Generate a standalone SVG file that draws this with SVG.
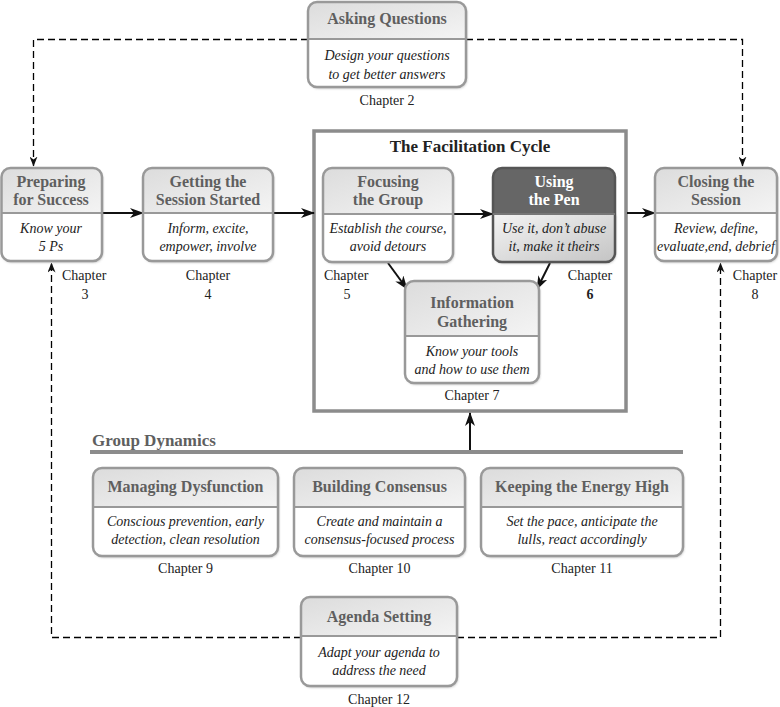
<svg xmlns="http://www.w3.org/2000/svg" width="780" height="707" viewBox="0 0 780 707">
<style>
text{font-family:"Liberation Serif","Times New Roman",Times,"Nimbus Roman",serif}
.hd{font-weight:bold;font-size:16px;fill:#5f5f5f;text-anchor:middle}
.hdw{font-weight:bold;font-size:16px;fill:#ffffff;text-anchor:middle}
.bd{font-style:italic;font-size:14px;fill:#222;text-anchor:middle}
.ch{font-size:14px;fill:#222;text-anchor:middle}
.chs{font-size:14px;fill:#222}
.ttl{font-weight:bold;font-size:17px;fill:#222;text-anchor:middle}
.gd{font-weight:bold;font-size:17px;fill:#5f5f5f}
.body{fill:#fff}
.head{fill:url(#hg)}
.out{fill:none;stroke:#999;stroke-width:2.5}
.div{stroke:#999;stroke-width:2}
.con{stroke:#111;stroke-width:2;fill:none}
.dash{stroke:#000;stroke-width:1.3;fill:none;stroke-dasharray:7 4}
</style>
<defs>
<linearGradient id="hg" x1="0" y1="0" x2="1" y2="1">
<stop offset="0" stop-color="#dcdcdc"/>
<stop offset="1" stop-color="#f4f4f4"/>
</linearGradient>
<linearGradient id="pg" x1="0" y1="0" x2="1" y2="1">
<stop offset="0" stop-color="#f4f4f4"/>
<stop offset="1" stop-color="#c4c4c4"/>
</linearGradient>
<filter id="sh" x="-10%" y="-10%" width="120%" height="120%">
<feDropShadow dx="1" dy="1.5" stdDeviation="1" flood-color="#666" flood-opacity="0.45"/>
</filter>
<marker id="ah" markerUnits="userSpaceOnUse" markerWidth="14" markerHeight="10" refX="13" refY="5" orient="auto">
<path d="M0,0 L14,5 L0,10 L4,5 Z" fill="#111"/>
</marker>
<marker id="ad" markerUnits="userSpaceOnUse" markerWidth="10" markerHeight="8" refX="9.5" refY="4" orient="auto">
<path d="M0,0 L10,4 L0,8 L3,4 Z" fill="#111"/>
</marker>
</defs>

<g id="facilitation-cycle">
<rect x="314" y="131" width="312" height="280" fill="#fff" stroke="#8c8c8c" stroke-width="3.5"/>
<text class="ttl" x="470" y="152">The Facilitation Cycle</text>
</g>

<g id="connectors">
<path class="dash" d="M308,39.5 H33.5 V166" marker-end="url(#ad)"/>
<path class="dash" d="M466,39.5 H742.5 V166" marker-end="url(#ad)"/>
<path class="dash" d="M301,637.5 H51.5 V263" marker-end="url(#ad)"/>
<path class="dash" d="M457,637.5 H720.5 V263" marker-end="url(#ad)"/>
<line class="con" x1="102" y1="213" x2="143" y2="213" marker-end="url(#ah)"/>
<line class="con" x1="273" y1="213" x2="314" y2="213" marker-end="url(#ah)"/>
<line class="con" x1="453" y1="214" x2="493" y2="214" marker-end="url(#ah)"/>
<line class="con" x1="627" y1="213" x2="655" y2="213" marker-end="url(#ah)"/>
<line class="con" x1="388" y1="263" x2="407" y2="289" marker-end="url(#ah)"/>
<line class="con" x1="550" y1="263" x2="537" y2="289" marker-end="url(#ah)"/>
<line class="con" x1="470" y1="451" x2="470" y2="413" marker-end="url(#ah)"/>
</g>

<g id="asking-questions">
<rect class="body" x="308" y="2" width="158" height="85" rx="9" filter="url(#sh)"/>
<path class="head" d="M308,39 V11 A9,9 0 0 1 317,2 H457 A9,9 0 0 1 466,11 V39 Z"/>
<rect class="out" x="308" y="2" width="158" height="85" rx="9"/>
<line class="div" x1="308" y1="39" x2="466" y2="39"/>
<text class="hd" x="387" y="24">Asking Questions</text>
<text class="bd" x="387" y="60">Design your questions</text>
<text class="bd" x="387" y="79">to get better answers</text>
<text class="ch" x="387" y="105">Chapter 2</text>
</g>

<g id="preparing">
<rect class="body" x="1" y="168" width="101" height="93" rx="9" filter="url(#sh)"/>
<path class="head" d="M1,213 V177 A9,9 0 0 1 10,168 H93 A9,9 0 0 1 102,177 V213 Z"/>
<rect class="out" x="1.5" y="168" width="100.5" height="93" rx="9"/>
<line class="div" x1="1" y1="213" x2="102" y2="213"/>
<text class="hd" x="51" y="187">Preparing</text>
<text class="hd" x="51" y="205">for Success</text>
<text class="bd" x="51" y="233">Know your</text>
<text class="bd" x="51" y="251">5 Ps</text>
<text class="chs" x="62" y="280">Chapter</text>
<text class="ch" x="85" y="299">3</text>
</g>

<g id="getting-started">
<rect class="body" x="143" y="168" width="130" height="93" rx="9" filter="url(#sh)"/>
<path class="head" d="M143,213 V177 A9,9 0 0 1 152,168 H264 A9,9 0 0 1 273,177 V213 Z"/>
<rect class="out" x="143" y="168" width="130" height="93" rx="9"/>
<line class="div" x1="143" y1="213" x2="273" y2="213"/>
<text class="hd" x="208" y="187">Getting the</text>
<text class="hd" x="208" y="205">Session Started</text>
<text class="bd" x="208" y="233">Inform, excite,</text>
<text class="bd" x="208" y="251">empower, involve</text>
<text class="ch" x="208" y="280">Chapter</text>
<text class="ch" x="208" y="299">4</text>
</g>

<g id="focusing">
<rect class="body" x="323" y="168" width="130" height="94" rx="9" filter="url(#sh)"/>
<path class="head" d="M323,214 V177 A9,9 0 0 1 332,168 H444 A9,9 0 0 1 453,177 V214 Z"/>
<rect class="out" x="323" y="168" width="130" height="94" rx="9"/>
<line class="div" x1="323" y1="214" x2="453" y2="214"/>
<text class="hd" x="388" y="187">Focusing</text>
<text class="hd" x="388" y="205">the Group</text>
<text class="bd" x="388" y="233">Establish the course,</text>
<text class="bd" x="388" y="251">avoid detours</text>
<text class="chs" x="324" y="280">Chapter</text>
<text class="ch" x="347" y="299">5</text>
</g>

<g id="using-pen">
<path d="M493,214 H615 V253 A9,9 0 0 1 606,262 H502 A9,9 0 0 1 493,253 Z" fill="url(#pg)" filter="url(#sh)"/>
<path d="M493,214 V177 A9,9 0 0 1 502,168 H606 A9,9 0 0 1 615,177 V214 Z" fill="#666"/>
<rect x="493" y="168" width="122" height="94" rx="9" fill="none" stroke="#555" stroke-width="2.5"/>
<line x1="493" y1="214" x2="615" y2="214" stroke="#777" stroke-width="2"/>
<text class="hdw" x="554" y="187">Using</text>
<text class="hdw" x="554" y="205">the Pen</text>
<text class="bd" x="554" y="233">Use it, don’t abuse</text>
<text class="bd" x="554" y="251">it, make it theirs</text>
<text class="ch" x="590" y="280">Chapter</text>
<text class="ch" x="590" y="299" font-weight="bold">6</text>
</g>

<g id="info-gathering">
<rect class="body" x="405" y="281" width="134" height="102" rx="9" filter="url(#sh)"/>
<path class="head" d="M405,336 V290 A9,9 0 0 1 414,281 H530 A9,9 0 0 1 539,290 V336 Z"/>
<rect class="out" x="405" y="281" width="134" height="102" rx="9"/>
<line class="div" x1="405" y1="336" x2="539" y2="336"/>
<text class="hd" x="472" y="308">Information</text>
<text class="hd" x="472" y="327">Gathering</text>
<text class="bd" x="472" y="356">Know your tools</text>
<text class="bd" x="472" y="374">and how to use them</text>
<text class="ch" x="472" y="400">Chapter 7</text>
</g>

<g id="closing">
<rect class="body" x="655" y="168" width="122" height="93" rx="9" filter="url(#sh)"/>
<path class="head" d="M655,213 V177 A9,9 0 0 1 664,168 H768 A9,9 0 0 1 777,177 V213 Z"/>
<rect class="out" x="655" y="168" width="122" height="93" rx="9"/>
<line class="div" x1="655" y1="213" x2="777" y2="213"/>
<text class="hd" x="716" y="187">Closing the</text>
<text class="hd" x="716" y="205">Session</text>
<text class="bd" x="716" y="233">Review, define,</text>
<text class="bd" x="716" y="251">evaluate,end, debrief</text>
<text class="ch" x="755" y="280">Chapter</text>
<text class="ch" x="755" y="299">8</text>
</g>

<g id="group-dynamics">
<text class="gd" x="92" y="446">Group Dynamics</text>
<line x1="90" y1="452" x2="683" y2="452" stroke="#8c8c8c" stroke-width="4"/>
</g>

<g id="managing-dysfunction">
<rect class="body" x="93" y="468" width="185" height="88" rx="9" filter="url(#sh)"/>
<path class="head" d="M93,507 V477 A9,9 0 0 1 102,468 H269 A9,9 0 0 1 278,477 V507 Z"/>
<rect class="out" x="93" y="468" width="185" height="88" rx="9"/>
<line class="div" x1="93" y1="507" x2="278" y2="507"/>
<text class="hd" x="185.5" y="492">Managing Dysfunction</text>
<text class="bd" x="185.5" y="526">Conscious prevention, early</text>
<text class="bd" x="185.5" y="544">detection, clean resolution</text>
<text class="ch" x="185.5" y="573">Chapter 9</text>
</g>

<g id="building-consensus">
<rect class="body" x="294" y="468" width="171" height="88" rx="9" filter="url(#sh)"/>
<path class="head" d="M294,507 V477 A9,9 0 0 1 303,468 H456 A9,9 0 0 1 465,477 V507 Z"/>
<rect class="out" x="294" y="468" width="171" height="88" rx="9"/>
<line class="div" x1="294" y1="507" x2="465" y2="507"/>
<text class="hd" x="379.5" y="492">Building Consensus</text>
<text class="bd" x="379.5" y="526">Create and maintain a</text>
<text class="bd" x="379.5" y="544">consensus-focused process</text>
<text class="ch" x="379.5" y="573">Chapter 10</text>
</g>

<g id="energy-high">
<rect class="body" x="481" y="468" width="202" height="88" rx="9" filter="url(#sh)"/>
<path class="head" d="M481,507 V477 A9,9 0 0 1 490,468 H674 A9,9 0 0 1 683,477 V507 Z"/>
<rect class="out" x="481" y="468" width="202" height="88" rx="9"/>
<line class="div" x1="481" y1="507" x2="683" y2="507"/>
<text class="hd" x="582" y="492">Keeping the Energy High</text>
<text class="bd" x="582" y="526">Set the pace, anticipate the</text>
<text class="bd" x="582" y="544">lulls, react accordingly</text>
<text class="ch" x="582" y="573">Chapter 11</text>
</g>

<g id="agenda-setting">
<rect class="body" x="301" y="597" width="156" height="89" rx="9" filter="url(#sh)"/>
<path class="head" d="M301,636 V606 A9,9 0 0 1 310,597 H448 A9,9 0 0 1 457,606 V636 Z"/>
<rect class="out" x="301" y="597" width="156" height="89" rx="9"/>
<line class="div" x1="301" y1="636" x2="457" y2="636"/>
<text class="hd" x="379" y="622">Agenda Setting</text>
<text class="bd" x="379" y="657">Adapt your agenda to</text>
<text class="bd" x="379" y="675">address the need</text>
<text class="ch" x="379" y="704">Chapter 12</text>
</g>
</svg>
